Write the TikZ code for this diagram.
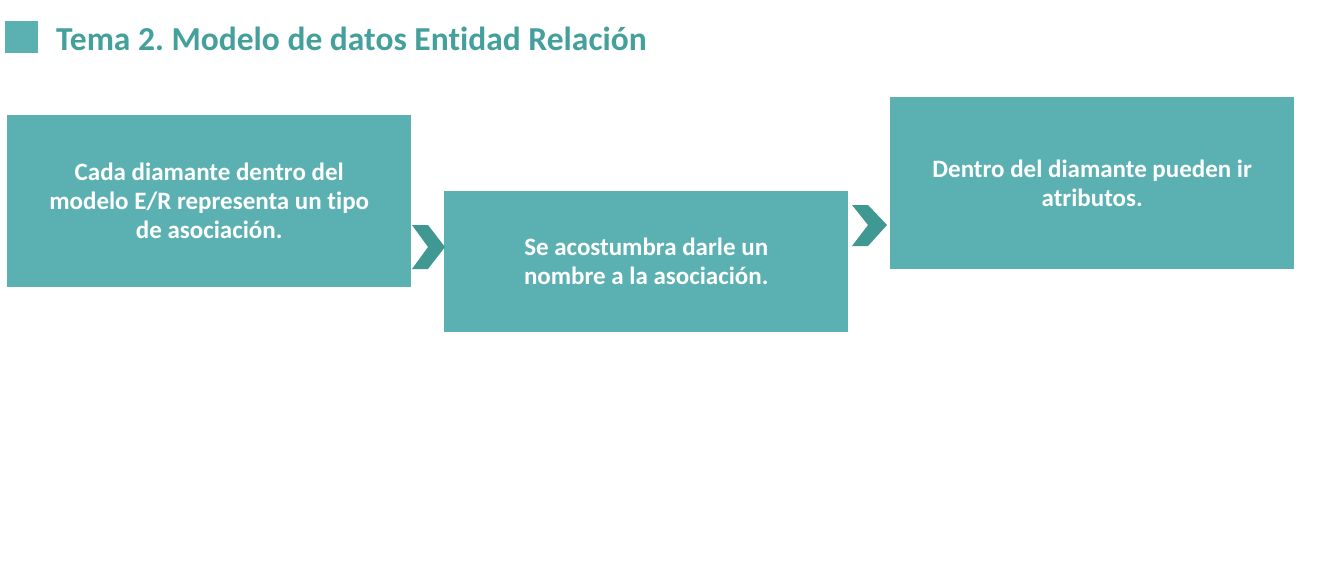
\documentclass[tikz,border=0pt]{standalone}
\usepackage{fontspec}
\setmainfont{Carlito}[Ligatures=NoCommon]
\frenchspacing
\definecolor{boxteal}{HTML}{5BB1B2}
\definecolor{chevteal}{HTML}{3F9892}
\definecolor{titleteal}{HTML}{45A09C}
\begin{document}
\begin{tikzpicture}[x=1pt,y=-1pt,
  card/.style={fill=boxteal,draw=none,minimum width=404pt,inner sep=0pt,
    text=white,font=\bfseries\fontsize{25}{29}\selectfont,align=center,anchor=north west},
  chev/.style={fill=chevteal,draw=none}]
\useasboundingbox (0,0) rectangle (1333,573);
\fill[white] (0,0) rectangle (1333,573);
\node[fill=boxteal,minimum width=33pt,minimum height=32pt,inner sep=0pt,anchor=north west] (sq) at (5,21) {};
\node[anchor=west,text=titleteal,font=\bfseries\fontsize{33.5}{38}\selectfont,inner sep=0pt] (title) at (56,39) {Tema 2. Modelo de datos Entidad Relación};
\node[card,minimum height=172pt] (b1) at (7,115) {Cada diamante dentro del\\modelo E/R representa un tipo\\de asociación.};
\node[card,minimum height=141pt] (b2) at (444,191) {Se acostumbra darle un\\nombre a la asociación.};
\node[card,minimum height=172pt] (b3) at (890,97) {Dentro del diamante pueden ir\\atributos.};
\fill[chev] (412,225) -- (428,225) -- (445,247) -- (428,269) -- (412,269) -- (428,247) -- cycle;
\fill[chev] (852,205) -- (868,205) -- (887,225) -- (868,246) -- (852,246) -- (868,225) -- cycle;
\end{tikzpicture}
\end{document}
